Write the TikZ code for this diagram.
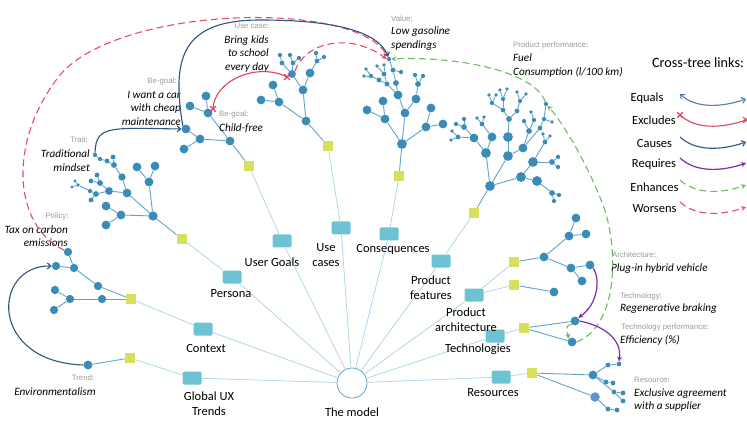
\documentclass[tikz,border=0pt]{standalone}
\usepackage{fontspec}
\setmainfont{Carlito}
\newfontfamily\grayf{Liberation Sans}
\usetikzlibrary{arrows.meta,shapes.misc}
\definecolor{treeblue}{HTML}{3A8CB6}
\definecolor{treeline}{HTML}{5EA5CB}
\definecolor{trunk}{HTML}{A9D3E6}
\definecolor{boxcyan}{HTML}{6DC2D4}
\definecolor{sqyellow}{HTML}{D6E05C}
\definecolor{lblgray}{HTML}{9B9B9B}
\definecolor{colgray}{HTML}{6B6B6B}
\definecolor{eqblue}{HTML}{4F7DB5}
\definecolor{exred}{HTML}{E2405E}
\definecolor{causeblue}{HTML}{2A5585}
\definecolor{reqpurple}{HTML}{7E2FA6}
\definecolor{enhgreen}{HTML}{6BBF5F}
\definecolor{worred}{HTML}{E84A6D}
\definecolor{lightnode}{HTML}{5F93D3}
\newcommand{\TN}[4]{\node[tn,minimum size={#4pt+0.8pt}] (#1) at (#2,#3) {};}
\newcommand{\glab}[1]{#1{\color{colgray}:}}
\begin{document}
\begin{tikzpicture}[x=1pt,y=-1pt,
  tn/.style={circle,fill=treeblue,inner sep=0pt},
  catbox/.style={rectangle,rounded corners=1.5pt,fill=boxcyan,minimum width=19pt,minimum height=13pt,inner sep=0pt},
  sqbox/.style={rectangle,fill=sqyellow,minimum size=10.5pt,inner sep=0pt},
  trunkline/.style={draw=trunk,line width=0.7pt},
  tl/.style={draw=treeline,line width=0.9pt},
  catlbl/.style={font=\fontsize{12.5}{15}\selectfont,align=center,inner sep=0pt},
  itl/.style={font=\fontsize{11.2}{13.5}\selectfont\itshape,inner sep=0pt},
  gl/.style={font=\grayf\fontsize{7.8}{9}\selectfont,text=lblgray,inner sep=0pt},
  leglbl/.style={font=\fontsize{12.5}{15}\selectfont,inner sep=0pt},
  xmark/.style={cross out,draw=exred,line width=1.2pt,minimum size=4.5pt,inner sep=0pt},
  eqlink/.style={draw=eqblue,line width=1.1pt,{Straight Barb[length=3.5pt,width=6pt]}-{Straight Barb[length=3.5pt,width=6pt]}},
  exlink/.style={draw=exred,line width=1.1pt},
  causelink/.style={draw=causeblue,line width=1.1pt,-{Straight Barb[length=3.5pt,width=6pt]}},
  reqlink/.style={draw=reqpurple,line width=1.2pt,-{Stealth[length=5pt,width=5pt]}},
  enhlink/.style={draw=enhgreen,line width=1.1pt,dash pattern=on 7pt off 4pt,-{Stealth[length=5pt,width=5pt]}},
  worlink/.style={draw=worred,line width=1.1pt,dash pattern=on 7pt off 4pt,-{Stealth[length=5pt,width=5pt]}}
]
\useasboundingbox (0,0) rectangle (747,422);
\fill[white] (0,0) rectangle (747,422);

% center and category boxes
\node[circle,draw=treeline,fill=white,line width=0.8pt,minimum size=30pt,inner sep=0pt] (model) at (352,383) {};
\node[catbox] (bG) at (192,378) {};
\node[catbox] (bC) at (203,329) {};
\node[catbox] (bP) at (232,277) {};
\node[catbox] (bU) at (282,241) {};
\node[catbox] (bS) at (341,228) {};
\node[catbox] (bQ) at (389,234) {};
\node[catbox] (bF) at (441,261) {};
\node[catbox] (bA) at (474,295) {};
\node[catbox] (bT) at (495,336) {};
\node[catbox] (bR) at (501,377) {};
% squares
\node[sqbox] (sqG) at (130,358) {};
\node[sqbox] (sqC) at (131,299) {};
\node[sqbox] (sqP) at (182,239) {};
\node[sqbox] (sqU) at (249,166) {};
\node[sqbox] (sqS) at (328,146) {};
\node[sqbox] (sqQ) at (399,176) {};
\node[sqbox] (sqF) at (474,213) {};
\node[sqbox] (sqA1) at (514,262) {};
\node[sqbox] (sqA2) at (514,285) {};
\node[sqbox] (sqT) at (524,328) {};
\node[sqbox] (sqR) at (532,373) {};

\foreach \b in {bG,bC,bP,bU,bS,bQ,bF,bA,bT,bR}{\draw[trunkline] (model) -- (\b);}
\foreach \a/\b in {bG/sqG,bC/sqC,bP/sqP,bU/sqU,bS/sqS,bQ/sqQ,bF/sqF,bA/sqA1,bA/sqA2,bT/sqT,bR/sqR}{\draw[trunkline] (\a) -- (\b);}

% ---- trees ----
% global trends
\TN{g1}{88}{365}{8}
% context
\TN{c1}{102}{299}{7.5}\TN{c2}{70}{299}{7.5}\TN{c3}{55}{290}{7.5}\TN{c4}{54}{310}{7.5}
\TN{c5}{98}{286}{7.5}\TN{c6}{74}{268}{7.5}\TN{c7}{56}{266}{7.5}\TN{c8}{68}{252}{7.5}
% persona
\TN{p0}{153}{216}{8.5}
\TN{p1}{121}{215}{8}\TN{p1a}{106}{206}{8}\TN{p1b}{106}{225}{8}
\TN{p2}{149}{182}{8}\TN{p2a}{137}{167}{8}\TN{p2b}{155}{166}{8}
\TN{p3}{127}{193}{8}\TN{p3a}{122}{177}{6.5}\TN{p3b}{114}{165}{5}\TN{p3f}{113}{157}{4}
\TN{p3c}{107}{161}{4}\TN{p3d}{100}{159}{3.5}\TN{p3e}{95}{155}{3.5}
\TN{p4}{109}{191}{7}\TN{p4a}{100}{183}{5}\TN{p4a1}{97}{175}{4}\TN{p4a2}{91}{181}{4}
\TN{p4b}{96}{194}{5}\TN{p4c}{90}{191}{3.5}\TN{p4e}{91}{200}{4}
\TN{p4d}{78}{185}{3}\TN{p4d1}{75}{181}{2.5}\TN{p4d2}{72}{187}{2.5}
% user goals
\TN{u0}{230}{141}{8}\TN{u1}{200}{139}{8}\TN{u1a}{184}{149}{8}\TN{u1b}{186}{129}{8}
\TN{u2}{208}{113}{8}\TN{u2a}{190}{106}{8}\TN{u2b}{206}{96}{8}
% use cases
\TN{s0}{306}{121}{8}\TN{s1}{279}{102}{8}\TN{s1a}{261}{100}{8}\TN{s1b}{273}{85}{8}
\TN{s2}{303}{90}{8}\TN{s3}{292}{74}{7}\TN{s4}{310}{73}{8}
\TN{s3a}{282}{63}{4}\TN{s3a1}{280}{55}{3.5}\TN{s3b}{293}{63}{4}\TN{s3b1}{290}{55}{3.5}\TN{s3b2}{299}{58}{3.5}
\TN{s4a}{317}{61}{4}\TN{s4a1}{316}{53}{3.5}\TN{s4a2}{324}{57}{3.5}
% consequences
\TN{q0}{402}{144}{9}\TN{q1}{385}{119}{8}\TN{q1a}{367}{110}{8}\TN{q1b}{383}{101}{8}
\TN{q2}{405}{113}{8}\TN{q2a}{398}{95}{8}\TN{q2b}{416}{99}{8}
\TN{q3}{426}{127}{8}\TN{q3a}{431}{108}{8}\TN{q3b}{443}{124}{8}
\TN{qa}{396}{83}{5}\TN{qb}{393}{70}{4}\TN{qv}{389}{59}{3.5}\TN{qc}{401}{72}{3.5}
\TN{qd}{387}{84}{4}\TN{qe}{379}{80}{4}\TN{qf}{371}{76}{3.5}\TN{qg}{364}{76}{3}\TN{qh}{366}{69}{3}
\TN{qi}{384}{74}{4}\TN{qk}{377}{66}{3}\TN{ql}{384}{65}{3}
\TN{qm}{418}{84}{5}\TN{qn}{415}{75}{3.5}\TN{qo}{423}{76}{3.5}
% product features
\TN{f0}{490}{186}{9}
\TN{f1}{486}{153}{9}\TN{f1a}{474}{138}{8}\TN{f1b}{492}{137}{8}
\TN{f1a1}{464}{127}{5}\TN{f1a1a}{456}{124}{3.5}\TN{f1a1b}{464}{119}{3.5}
\TN{f1a2}{458}{137}{4}\TN{f1a2a}{452}{131}{3}\TN{f1a2b}{451}{140}{3}
\TN{f1b1}{482}{124}{4}\TN{f1b1a}{477}{118}{3}\TN{f1b1b}{484}{117}{3}
\TN{f2}{508}{156}{9}\TN{f2a}{508}{137}{9}\TN{f2a1}{509}{119}{5}
\TN{fe1}{503}{110}{4}\TN{fe1a}{492}{103}{3.5}\TN{fe1a1}{489}{95}{3}\TN{fe1a2}{496}{95}{3}
\TN{fe1b}{503}{99}{3.5}\TN{fe1b1}{500}{90}{3}\TN{fe1b2}{507}{89}{3}
\TN{fe2}{517}{111}{4}\TN{fe2a}{520}{101}{3.5}\TN{fe2a1}{517}{92}{3}\TN{fe2a2}{526}{94}{3}
\TN{f2b}{523}{148}{8}\TN{f2b1}{529}{131}{5}\TN{f2b1a}{524}{121}{3.5}\TN{f2b1b}{534}{120}{3.5}\TN{f2b1c}{531}{112}{3}
\TN{f2c}{540}{128}{4}\TN{f2c1}{544}{119}{3.5}\TN{fc}{546}{104}{3.5}\TN{f2c2}{552}{122}{3}
\TN{f3}{521}{177}{9}\TN{f3a}{533}{162}{9}\TN{f3a1}{552}{162}{5}\TN{f3a1a}{558}{157}{3.5}\TN{f3a1b}{558}{167}{3.5}
\TN{f3a2}{545}{142}{4}\TN{f3a2a}{543}{134}{3}\TN{f3a2b}{550}{136}{3}
\TN{f3b}{537}{181}{9}\TN{f3b1}{552}{193}{5}\TN{f3b1a}{559}{195}{3.5}\TN{f3b1b}{554}{201}{3.5}
% product architecture
\TN{a0}{544}{257}{8}\TN{a1}{569}{236}{8}\TN{a1a}{576}{218}{8}\TN{a1b}{586}{234}{8}
\TN{a2}{571}{268}{8}\TN{a2a}{590}{265}{8}\TN{a2b}{582}{281}{8}\TN{a3}{554}{292}{8}
% technologies
\TN{tt1}{575}{321}{8}\TN{tt2}{572}{342}{8}
% resources
\TN{r1}{593}{375}{8}\TN{r1a}{608}{365}{4}\TN{r1b}{619}{364}{4}
\TN{r1c}{606}{382}{4}\TN{r1d}{613}{383}{4}\TN{r1e}{614}{392}{4}\TN{r1f}{623}{393}{4}\TN{r1g}{623}{401}{4}
\node[circle,fill=lightnode,inner sep=0pt,minimum size=9.5pt] (r2) at (595,397) {};
\TN{r2a}{608}{409}{4}\TN{r2b}{617}{410}{4}

\foreach \a/\b in {sqG/g1,
  sqC/c1,c1/c2,c2/c3,c2/c4,sqC/c5,c5/c6,c6/c7,c6/c8,
  sqP/p0,p0/p1,p1/p1a,p1/p1b,p0/p2,p2/p2a,p2/p2b,p0/p3,p3/p3a,p3a/p3b,p3b/p3f,p3b/p3c,p3c/p3d,p3d/p3e,
  p3/p4,p4/p4a,p4a/p4a1,p4a/p4a2,p4/p4b,p4b/p4c,p4b/p4e,p4c/p4d,p4d/p4d1,p4d/p4d2,
  sqU/u0,u0/u1,u1/u1a,u1/u1b,u0/u2,u2/u2a,u2/u2b,
  sqS/s0,s0/s1,s1/s1a,s1/s1b,s0/s2,s2/s3,s2/s4,s3/s3a,s3a/s3a1,s3/s3b,s3b/s3b1,s3b/s3b2,s4/s4a,s4a/s4a1,s4a/s4a2,
  sqQ/q0,q0/q1,q1/q1a,q1/q1b,q0/q2,q2/q2a,q2/q2b,q0/q3,q3/q3a,q3/q3b,
  q2a/qa,qa/qb,qb/qv,qb/qc,q2a/qd,qd/qe,qe/qf,qf/qg,qf/qh,qd/qi,qi/qk,qi/ql,q2b/qm,qm/qn,qm/qo,
  sqF/f0,f0/f1,f1/f1a,f1/f1b,f1a/f1a1,f1a1/f1a1a,f1a1/f1a1b,f1a/f1a2,f1a2/f1a2a,f1a2/f1a2b,f1b/f1b1,f1b1/f1b1a,f1b1/f1b1b,
  f0/f2,f2/f2a,f2a/f2a1,f2a1/fe1,fe1/fe1a,fe1a/fe1a1,fe1a/fe1a2,fe1/fe1b,fe1b/fe1b1,fe1b/fe1b2,f2a1/fe2,fe2/fe2a,fe2a/fe2a1,fe2a/fe2a2,
  f2/f2b,f2b/f2b1,f2b1/f2b1a,f2b1/f2b1b,f2b1b/f2b1c,f2b/f2c,f2c/f2c1,f2c1/fc,f2c1/f2c2,
  f0/f3,f3/f3a,f3a/f3a1,f3a1/f3a1a,f3a1/f3a1b,f3a/f3a2,f3a2/f3a2a,f3a2/f3a2b,f3/f3b,f3b/f3b1,f3b1/f3b1a,f3b1/f3b1b,
  sqA1/a0,a0/a1,a1/a1a,a1/a1b,a0/a2,a2/a2a,a2/a2b,sqA2/a3,
  sqT/tt1,sqT/tt2,
  sqR/r1,r1/r1a,r1a/r1b,r1/r1c,r1c/r1d,r1/r1e,r1e/r1f,r1e/r1g,sqR/r2,r2/r2a,r2a/r2b}
  {\draw[tl] (\a) -- (\b);}

% ---- labels ----
\node[catlbl] (lG) at (209,404) {Global UX\\Trends};
\node[catlbl] (lC) at (206,348) {Context};
\node[catlbl] (lP) at (231,294) {Persona};
\node[catlbl] (lU) at (272,262) {User Goals};
\node[catlbl] (lS) at (326,255) {Use\\cases};
\node[catlbl] (lQ) at (393,249) {Consequences};
\node[catlbl] (lF) at (431,288) {Product\\features};
\node[catlbl] (lA) at (466,320) {Product\\architecture};
\node[catlbl] (lT) at (478,349) {Technologies};
\node[catlbl] (lR) at (493,393) {Resources};
\node[catlbl] (lM) at (352,412) {The model};

\node[gl] (gTrend) at (83,378) {\glab{Trend}};
\node[itl] (iTrend) at (55,392) {Environmentalism};
\node[gl] (gPol) at (57,216) {\glab{Policy}};
\node[itl,align=right,anchor=east] (iPol) at (68,236) {Tax on carbon\\emissions};
\node[gl] (gTrait) at (79,140) {\glab{Trait}};
\node[itl,align=right,anchor=east] (iTrait) at (90,160.5) {Traditional\\mindset};
\node[gl] (gBG1) at (162,81) {\glab{Be-goal}};
\node[itl,align=right,anchor=east] (iBG1) at (181,108) {I want a car\\with cheap\\maintenance};
\node[gl,anchor=west] (gBG2) at (219,114) {\glab{Be-goal}};
\node[itl,anchor=west] (iBG2) at (219,128) {Child-free};
\node[gl] (gUC) at (252,26) {\glab{Use case}};
\node[itl,align=right,anchor=east] (iUC) at (269,54) {Bring kids\\to school\\every day};
\node[gl,anchor=west] (gVal) at (391,19) {\glab{Value}};
\node[itl,align=left,anchor=west] (iVal) at (391,38.5) {Low gasoline\\spendings};
\node[gl,anchor=west] (gPP) at (513,45) {\glab{Product performance}};
\node[itl,align=left,anchor=west] (iPP) at (513,65.5) {Fuel\\Consumption (l/100 km)};
\node[gl,anchor=west] (gArc) at (612,255) {\glab{Architecture}};
\node[itl,anchor=west] (iArc) at (611,269) {Plug-in hybrid vehicle};
\node[gl,anchor=west] (gTech) at (620,296) {\glab{Technology}};
\node[itl,anchor=west] (iTech) at (620,309) {Regenerative braking};
\node[gl,anchor=west] (gTP) at (621,327) {\glab{Technology performance}};
\node[itl,anchor=west] (iTP) at (620,340) {Efficiency (\%)};
\node[gl,anchor=west] (gRes) at (634,380) {\glab{Resource}};
\node[itl,align=left,anchor=west] (iRes) at (634,400) {Exclusive agreement\\with a supplier};

% ---- legend ----
\node[font=\fontsize{14.2}{17}\selectfont,inner sep=0pt] (legtitle) at (698,63) {Cross-tree links:};
\node[leglbl] (lEq) at (647,98) {Equals};
\node[leglbl] (lEx) at (654,120) {Excludes};
\node[leglbl] (lCa) at (654.5,143) {Causes};
\node[leglbl] (lRq) at (654,164) {Requires};
\node[leglbl] (lEn) at (654.5,187) {Enhances};
\node[leglbl] (lWo) at (654.5,209) {Worsens};
\foreach \n/\s in {Eq/94,Ex/115,Ca/137,Rq/158,En/180,Wo/202}{
  \coordinate (ls\n) at (680,\s);
  \coordinate (le\n) at (746,\s+5);
  \coordinate (lc\n) at (695,\s+14);
  \coordinate (ld\n) at (720,\s+14);
}
\draw[eqlink] (lsEq) .. controls (lcEq) and (ldEq) .. (leEq);
\node[xmark] (xl1) at (lsEx) {};
\node[xmark] (xl2) at (leEx) {};
\draw[exlink] (xl1.center) .. controls (lcEx) and (ldEx) .. (xl2.center);
\draw[causelink] (lsCa) .. controls (lcCa) and (ldCa) .. (leCa);
\draw[reqlink] (lsRq) .. controls (lcRq) and (ldRq) .. (leRq);
\draw[enhlink] (lsEn) .. controls (lcEn) and (ldEn) .. (leEn);
\draw[worlink] (lsWo) .. controls (lcWo) and (ldWo) .. (leWo);

% ---- cross-tree links ----
\draw[worlink] (c8) .. controls (12,225) and (8,140) .. (60,75) .. controls (120,5) and (355,0) .. (qv);
\draw[causelink] (u1b.north west) .. controls (172,60) and (180,20) .. (260,20) .. controls (330,20) and (378,30) .. (qv);
\draw[causelink] (p3e.north) .. controls (96,125) and (110,128) .. (u1b.west);
\draw[causelink] (g1.west) .. controls (-12,362) and (-8,265) .. (c7.west);
\node[xmark] (xa) at (213,109) {};
\node[xmark] (xb) at (287,77) {};
\draw[exlink] (xa.center) .. controls (214,80) and (258,62) .. (xb.center);
\draw[worlink] (s3.north east) .. controls (305,42) and (350,32) .. (qv.west);
\draw[enhlink] (fc) .. controls (535,72) and (460,56) .. (qv.east);
\draw[enhlink] (tt2.east) .. controls (620,325) and (618,245) .. (603,205) .. controls (590,170) and (565,125) .. (fc);
\draw[enhlink] (tt1.south west) .. controls (566,326) .. (tt2.north west);
\draw[reqlink] (a2a.south east) .. controls (601,280) and (597,305) .. (tt1.north east);
\draw[reqlink] (tt1.east) .. controls (605,326) and (622,340) .. (r1b.north);
\end{tikzpicture}
\end{document}
